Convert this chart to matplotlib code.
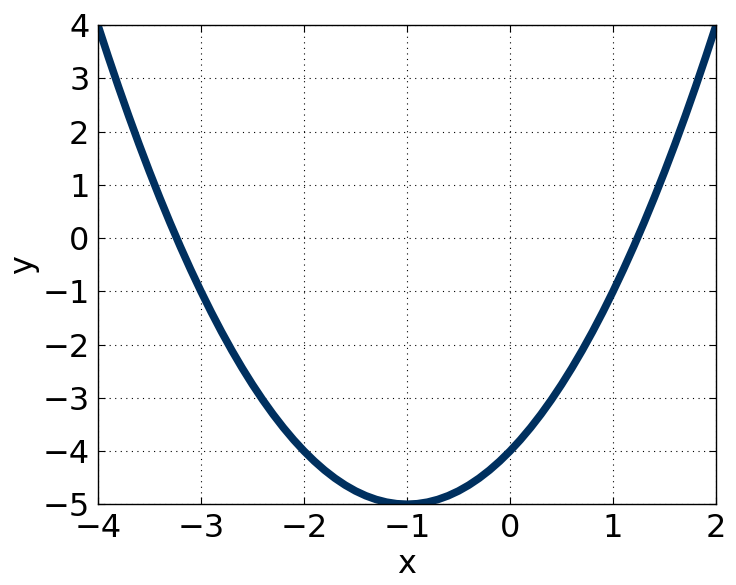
import matplotlib
matplotlib.use('Agg')
import matplotlib.pyplot as plt

# values, every 0.1 in x
x_vals = [-4.0, -3.9, -3.8, -3.7, -3.6, -3.5, -3.4, -3.3, -3.2, -3.1,
          -3.0, -2.9, -2.8, -2.7, -2.6, -2.5, -2.4, -2.3, -2.2, -2.1,
          -2.0, -1.9, -1.8, -1.7, -1.6, -1.5, -1.4, -1.3, -1.2, -1.1,
          -1.0, -0.9, -0.8, -0.7, -0.6, -0.5, -0.4, -0.3, -0.2, -0.1,
          0.0, 0.1, 0.2, 0.3, 0.4, 0.5, 0.6, 0.7, 0.8, 0.9,
          1.0, 1.1, 1.2, 1.3, 1.4, 1.5, 1.6, 1.7, 1.8, 1.9, 2.0]
y_vals = [4.0, 3.41, 2.84, 2.29, 1.76, 1.25, 0.76, 0.29, -0.16, -0.59,
          -1.0, -1.39, -1.76, -2.11, -2.44, -2.75, -3.04, -3.31, -3.56, -3.79,
          -4.0, -4.19, -4.36, -4.51, -4.64, -4.75, -4.84, -4.91, -4.96, -4.99,
          -5.0, -4.99, -4.96, -4.91, -4.84, -4.75, -4.64, -4.51, -4.36, -4.19,
          -4.0, -3.79, -3.56, -3.31, -3.04, -2.75, -2.44, -2.11, -1.76, -1.39,
          -1.0, -0.59, -0.16, 0.29, 0.76, 1.25, 1.76, 2.29, 2.84, 3.41, 4.0]
x_ticks = [-4, -3, -2, -1, 0, 1, 2]
y_ticks = [-5, -4, -3, -2, -1, 0, 1, 2, 3, 4]

fig = plt.figure(figsize=(7.36, 5.85), dpi=100)
ax = fig.add_axes([0.133, 0.138, 0.840, 0.819])

ax.plot(x_vals, y_vals, color='#00305f', linewidth=5.5, solid_capstyle='butt')

ax.set_xlim(-4, 2)
ax.set_ylim(-5, 4)
ax.set_xticks(x_ticks)
ax.set_yticks(y_ticks)
ax.set_xticklabels(['\u2212' + str(-t) if t < 0 else str(t) for t in x_ticks])
ax.set_yticklabels(['\u2212' + str(-t) if t < 0 else str(t) for t in y_ticks])
ax.tick_params(direction='in', top=True, right=True, labelsize=23, length=5, pad=6)
ax.grid(True, linestyle=(0, (1, 4)), color='black', linewidth=0.8)
ax.set_xlabel('x', fontsize=23, labelpad=4)
ax.set_ylabel('y', fontsize=23, labelpad=2)
for s in ax.spines.values():
    s.set_linewidth(1.0)

fig.savefig('out.png', dpi=100)
